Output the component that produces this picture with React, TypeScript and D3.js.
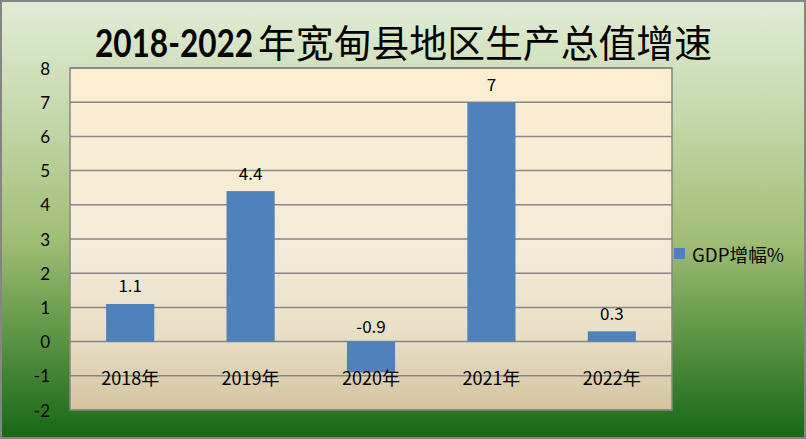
import React, { useEffect, useRef, useState } from "react";
import * as d3 from "d3";

const categories: string[] = ["2018年", "2019年", "2020年", "2021年", "2022年"];
const values: number[] = [1.1, 4.4, -0.9, 7, 0.3];
const yTicks: number[] = [-2, -1, 0, 1, 2, 3, 4, 5, 6, 7, 8];
const seriesName = "GDP增幅%";
const titleNum = "2018-2022";
const titleText = "年宽甸县地区生产总值增速";

const W = 806;
const H = 439;
const plot = { left: 70, right: 672, top: 68, bottom: 410 };

export default function App() {
  const numRef = useRef<SVGTextElement | null>(null);
  const [sx, setSx] = useState(0.86);
  useEffect(() => {
    if (numRef.current) {
      const w = numRef.current.getComputedTextLength();
      if (w > 0) setSx(158 / w);
    }
  }, []);

  const x = d3
    .scaleBand<string>()
    .domain(categories)
    .range([plot.left, plot.right])
    .paddingInner(0.6)
    .paddingOuter(0.3);
  const y = d3.scaleLinear().domain([-2, 8]).range([plot.bottom, plot.top]);
  const cjk = "'Noto Sans CJK SC', 'Noto Sans', sans-serif";
  const latin = "Lato, 'Noto Sans', sans-serif";

  return (
    <svg
      width={W}
      height={H}
      style={{ position: "absolute", left: 0, top: 0, display: "block" }}
    >
      <defs>
        <linearGradient id="bg" x1="0" y1="0" x2="0" y2="1">
          <stop offset="0" stopColor="#e1ecd6" />
          <stop offset="0.28" stopColor="#c3d7a8" />
          <stop offset="0.55" stopColor="#a0bd74" />
          <stop offset="0.75" stopColor="#619848" />
          <stop offset="1" stopColor="#166816" />
        </linearGradient>
        <linearGradient id="pl" x1="0" y1="0" x2="0" y2="1">
          <stop offset="0" stopColor="#fdeed1" />
          <stop offset="0.55" stopColor="#f3ebd9" />
          <stop offset="0.8" stopColor="#e7ddc3" />
          <stop offset="1" stopColor="#d4c39f" />
        </linearGradient>
      </defs>
      <rect x={1} y={1} width={W - 2} height={H - 2} fill="url(#bg)" stroke="#858585" strokeWidth={2} />
      <rect
        x={plot.left}
        y={plot.top}
        width={plot.right - plot.left}
        height={plot.bottom - plot.top}
        fill="url(#pl)"
        stroke="#868686"
        strokeWidth={1.5}
      />
      {yTicks.map((t) => (
        <g key={t}>
          <line x1={plot.left} x2={plot.right} y1={y(t)} y2={y(t)} stroke="#868686" strokeWidth={1.5} />
          <text
            x={50}
            y={y(t)}
            textAnchor="end"
            dominantBaseline="central"
            fontFamily={latin}
            fontSize={17}
            fill="#000"
          >
            {t}
          </text>
        </g>
      ))}
      {categories.map((c, i) => {
        const v = values[i];
        const bx = x(c) as number;
        const top = y(Math.max(0, v));
        const bot = y(Math.min(0, v));
        return (
          <g key={c}>
            <rect x={bx} y={top} width={x.bandwidth()} height={bot - top} fill="#4f81bd" />
            <text
              x={bx + x.bandwidth() / 2}
              y={y(Math.max(0, v)) - (v < 0 ? 16 : 19)}
              textAnchor="middle"
              dominantBaseline="central"
              fontFamily={cjk}
              fontSize={17}
              fill="#000"
            >
              {v}
            </text>
            <text
              x={bx + x.bandwidth() / 2}
              y={377}
              textAnchor="middle"
              dominantBaseline="central"
              fontFamily={cjk}
              fontSize={18}
              fill="#000"
            >
              {c}
            </text>
          </g>
        );
      })}
      <text
        ref={numRef}
        transform={`translate(95,57) scale(${sx},1)`}
        fontFamily={latin}
        fontWeight="bold"
        fontSize={38}
        fill="#000"
      >
        {titleNum}
      </text>
      <text
        x={258}
        y={57}
        fontFamily={cjk}
        fontSize={38}
        textLength={454}
        lengthAdjust="spacingAndGlyphs"
        fill="#000"
      >
        {titleText}
      </text>
      <rect x={674} y={248} width={11} height={11} fill="#4f81bd" />
      <text
        x={692}
        y={254}
        dominantBaseline="central"
        fontFamily={cjk}
        fontSize={18}
        textLength={92}
        lengthAdjust="spacingAndGlyphs"
        fill="#000"
      >
        {seriesName}
      </text>
    </svg>
  );
}
